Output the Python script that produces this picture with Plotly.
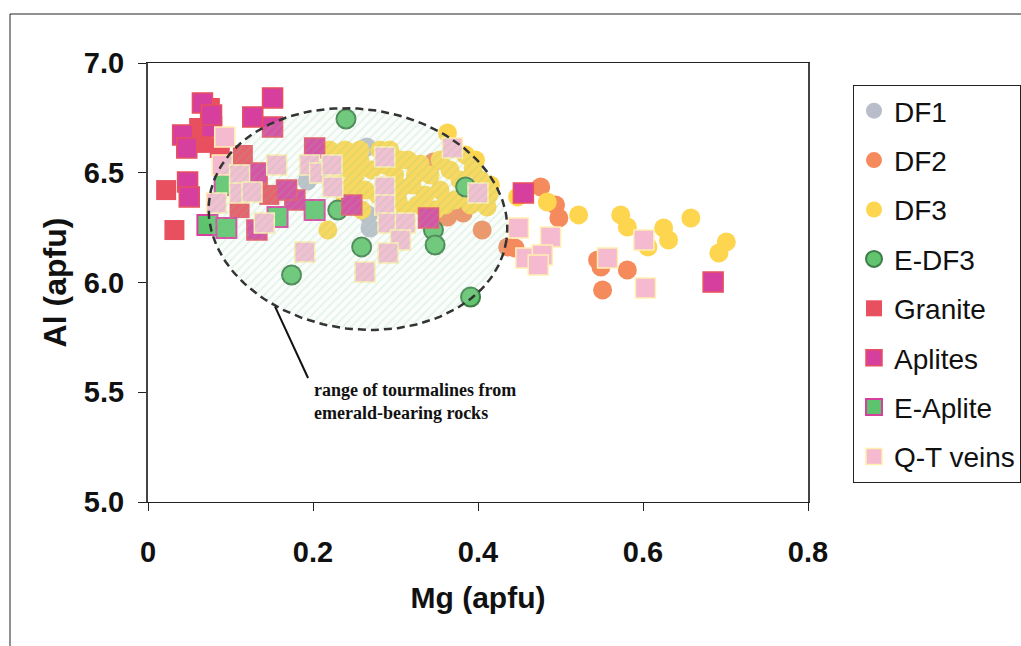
import numpy as np
import plotly.graph_objects as go

# ---------------- data (Mg apfu, Al apfu) ----------------
df1_mg = [0.193, 0.265, 0.267, 0.269, 0.363]
df1_al = [6.462, 6.617, 6.308, 6.248, 6.321]

df2_mg = [0.346, 0.363, 0.382, 0.405, 0.436, 0.476, 0.494, 0.498, 0.445, 0.545, 0.549, 0.581, 0.551]
df2_al = [6.549, 6.298, 6.317, 6.239, 6.162, 6.435, 6.353, 6.294, 6.157, 6.103, 6.071, 6.057, 5.966]

df3_mg = [0.363, 0.394, 0.411, 0.448, 0.484, 0.522, 0.573, 0.581, 0.625, 0.631, 0.658, 0.701, 0.692,
          0.606, 0.218,
          0.245, 0.247, 0.257, 0.271, 0.279, 0.293, 0.299, 0.303, 0.315, 0.320, 0.327, 0.330,
          0.342, 0.354, 0.366, 0.372, 0.385, 0.391, 0.403, 0.413, 0.239, 0.259, 0.312, 0.281,
          0.220, 0.233,
          0.263, 0.287, 0.306, 0.336, 0.354, 0.360, 0.378, 0.397, 0.415, 0.251, 0.287, 0.348,
          0.391, 0.257, 0.306, 0.324, 0.239]
df3_al = [6.681, 6.522, 6.344, 6.390, 6.367, 6.308, 6.308, 6.253, 6.248, 6.194, 6.294, 6.185, 6.134,
          6.162, 6.239,
          6.535, 6.444, 6.604, 6.513, 6.399, 6.604, 6.490, 6.376, 6.558, 6.444, 6.353, 6.540,
          6.490, 6.421, 6.513, 6.376, 6.581, 6.353, 6.467, 6.399, 6.376, 6.330, 6.330, 6.604,
          6.604, 6.513,
          6.421, 6.535, 6.431, 6.399, 6.558, 6.353, 6.467, 6.558, 6.444, 6.490, 6.330, 6.330,
          6.421, 6.558, 6.558, 6.490, 6.604]

edf3_mg = [0.240, 0.174, 0.259, 0.346, 0.348, 0.391, 0.385, 0.230]
edf3_al = [6.745, 6.034, 6.162, 6.239, 6.171, 5.934, 6.435, 6.330]

granite_mg = [0.022, 0.032, 0.066, 0.115, 0.147, 0.111, 0.133, 0.075, 0.400, 0.062, 0.087]
granite_al = [6.421, 6.239, 6.636, 6.581, 6.399, 6.339, 6.435, 6.795, 6.408, 6.704, 6.613]

aplite_mg = [0.066, 0.151, 0.127, 0.151, 0.042, 0.077, 0.047, 0.202, 0.132, 0.048, 0.050,
             0.178, 0.132, 0.247, 0.340, 0.455, 0.685, 0.168, 0.077]
aplite_al = [6.818, 6.841, 6.754, 6.708, 6.672, 6.708, 6.613, 6.613, 6.499, 6.458, 6.390,
             6.376, 6.239, 6.353, 6.294, 6.408, 6.002, 6.421, 6.763]

eaplite_mg = [0.072, 0.095, 0.157, 0.202, 0.093]
eaplite_al = [6.262, 6.248, 6.298, 6.330, 6.444]

qt_mg = [0.093, 0.090, 0.156, 0.111, 0.196, 0.208, 0.224, 0.223, 0.111, 0.126, 0.083, 0.141,
         0.190, 0.287, 0.369, 0.287, 0.287, 0.291, 0.312, 0.306, 0.291, 0.263, 0.400, 0.449,
         0.488, 0.458, 0.478, 0.473, 0.557, 0.601, 0.603]
qt_al = [6.663, 6.535, 6.535, 6.490, 6.535, 6.499, 6.435, 6.535, 6.408, 6.412, 6.362, 6.271,
         6.139, 6.572, 6.613, 6.435, 6.353, 6.271, 6.271, 6.194, 6.134, 6.048, 6.408, 6.248,
         6.207, 6.112, 6.125, 6.080, 6.112, 6.194, 5.975]

x_ticks = [0, 0.2, 0.4, 0.6, 0.8]
y_ticks = [5.0, 5.5, 6.0, 6.5, 7.0]

# emerald-bearing range ellipse (centre in data units, axes in px, tilt deg)
ell_cx, ell_cy = 0.2545, 6.289
ell_a, ell_b, ell_tilt = 150, 110, 8

# ---------------- figure ----------------
W, H = 1021, 646
ML, MR, MT, MB = 148, 213, 63, 144
pw, ph = W - ML - MR, H - MT - MB
xr, yr = [0, 0.8], [5.0, 7.0]
sx = pw / (xr[1] - xr[0])
sy = ph / (yr[1] - yr[0])

fig = go.Figure()

def add(name, mg, al, symbol, size, color, lcolor=None, lw=0):
    fig.add_trace(go.Scatter(
        x=mg, y=al, mode="markers", name=name, legendgroup=name,
        marker=dict(symbol=symbol, size=size, color=color,
                    line=dict(color=lcolor or color, width=lw)),
    ))

add("DF1", df1_mg, df1_al, "circle", 19, "#b9bdca")
add("DF2", df2_mg, df2_al, "circle", 19, "#f58a5c")
add("DF3", df3_mg, df3_al, "circle", 19, "#fdd54e")
add("E-DF3", edf3_mg, edf3_al, "circle", 19, "#62c46e", "#3d7d48", 2)
add("Granite", granite_mg, granite_al, "square", 20, "#e9505f")
add("Aplites", aplite_mg, aplite_al, "square", 20, "#d63f9d", "#e8505e", 1.5)
add("E-Aplite", eaplite_mg, eaplite_al, "square", 20, "#5cc46c", "#d63f9d", 2)
add("Q-T veins", qt_mg, qt_al, "square", 20, "#f5b9d0", "#fff0b0", 1.5)

t = np.linspace(0, 2 * np.pi, 200)
th = np.deg2rad(ell_tilt)
dxp = ell_a * np.cos(t) * np.cos(th) - ell_b * np.sin(t) * np.sin(th)
dyp = ell_a * np.cos(t) * np.sin(th) + ell_b * np.sin(t) * np.cos(th)
fig.add_trace(go.Scatter(
    x=ell_cx + dxp / sx, y=ell_cy - dyp / sy, mode="lines", fill="toself",
    showlegend=False, hoverinfo="skip",
    line=dict(color="#333333", width=2.5, dash="8px,5px"),
    fillcolor="rgba(215,240,222,0.15)",
    fillpattern=dict(shape="/", fgcolor="rgba(120,200,140,0.42)",
                     bgcolor="rgba(220,242,226,0.12)", size=6, solidity=0.25),
))

axis_font = dict(family="Liberation Sans, Arial", size=29, color="#111111", weight="bold")
title_font = dict(family="Liberation Sans, Arial", size=30, color="#111111", weight="bold")

fig.update_layout(
    width=W, height=H,
    margin=dict(l=ML, r=MR, t=MT, b=MB),
    paper_bgcolor="white", plot_bgcolor="white",
    showlegend=True,
    legend=dict(
        xref="container", yref="container",
        x=853 / W, y=1 - 85 / H, xanchor="left", yanchor="top",
        bordercolor="#222222", borderwidth=1, bgcolor="white",
        font=dict(family="Liberation Sans, Arial", size=28, color="#111111"),
        tracegroupgap=10, itemsizing="trace", maxheight=420,
    ),
    xaxis=dict(
        range=xr, tickvals=x_ticks, ticktext=["0", "0.2", "0.4", "0.6", "0.8"],
        ticks="outside", ticklen=8, tickcolor="#222", showgrid=False, zeroline=False,
        showline=True, linecolor="#222", linewidth=1, mirror=True,
        tickfont=axis_font, ticklabelstandoff=16, automargin=False,
        title=dict(text="Mg (apfu)", font=title_font, standoff=20),
    ),
    yaxis=dict(
        range=yr, tickvals=y_ticks, ticktext=["5.0", "5.5", "6.0", "6.5", "7.0"],
        ticks="outside", ticklen=8, tickcolor="#222", showgrid=False, zeroline=False,
        showline=True, linecolor="#444", linewidth=2, mirror=True,
        tickfont=axis_font, ticklabelstandoff=8, automargin=False,
        title=dict(text="Al (apfu)", font=dict(title_font, size=32), standoff=8),
    ),
)

# outer frame
fig.add_shape(type="rect", xref="paper", yref="paper",
              x0=(10 - ML) / pw, x1=(1030 - ML) / pw,
              y0=(H - MB - 660) / ph, y1=(H - MB - 14) / ph,
              line=dict(color="#222222", width=1), fillcolor="rgba(0,0,0,0)", layer="below")

# pointer line and label
fig.add_shape(type="line", xref="x", yref="y", x0=0.154, y0=5.89, x1=0.194, y1=5.565,
              line=dict(color="#111111", width=2))
fig.add_annotation(x=0.199, y=5.46, xref="x", yref="y", xanchor="left", yanchor="middle",
                   align="left", showarrow=False,
                   text="range of tourmalines from<br>emerald-bearing rocks",
                   font=dict(family="Liberation Serif, Times New Roman", size=18,
                             color="#111111", weight="bold"))

fig.write_html("out.html")
